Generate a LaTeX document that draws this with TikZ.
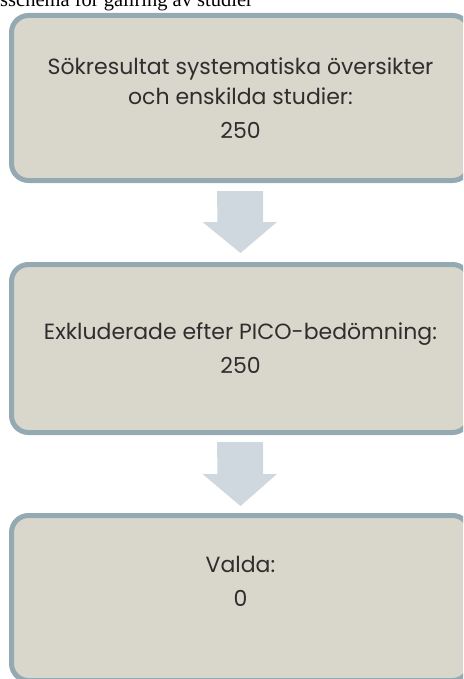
\documentclass[tikz,border=0pt]{standalone}
\usepackage{fontspec}
\setmainfont{Poppins}
\newfontfamily\titlefont{Liberation Serif}
\usetikzlibrary{calc}
\definecolor{boxborder}{HTML}{94A9B2}
\definecolor{boxfill}{HTML}{D9D7CB}
\definecolor{arrowfill}{HTML}{CFD8DE}
\definecolor{txt}{HTML}{2E2E2E}
\tikzset{
  stagebox/.style={draw=boxborder, fill=boxfill, line width=5pt, rounded corners=17pt,
    minimum width=458pt, align=center, text=txt,
    font=\fontsize{22}{30}\selectfont, inner sep=0pt},
  blockarrow/.style={fill=arrowfill, draw=none}
}
\begin{document}
\begin{tikzpicture}[x=1pt,y=-1pt]
\useasboundingbox (0,0) rectangle (463,679);
\begin{scope}
\clip (0,0) rectangle (463,679);
\node[anchor=base west, inner sep=0pt, font=\titlefont\fontsize{20.5}{24}\selectfont] (title) at (0,6.5) {sschema för gallring av studier};
\node[stagebox, minimum height=165pt] (b1) at (240.5,98) {Sökresultat systematiska översikter\\och enskilda studier:\\[4pt]250};
\node[stagebox, minimum height=168pt] (b2) at (240.5,348.5) {Exkluderade efter PICO-bedömning:\\[4pt]250};
\node[stagebox, minimum height=165pt] (b3) at (240.5,598) {Valda:\\[4pt]0\\[4pt]\mbox{}};
\fill[blockarrow] ($(b1.south)+(-23.5,8)$) -- ++(46,0) -- ++(0,31) -- ++(14,0)
  -- ($(b2.north)+(0,-9)$) -- ++(-38,-31) -- ++(15,0) -- cycle;
\fill[blockarrow] ($(b2.south)+(-23.5,7)$) -- ++(46,0) -- ++(0,32) -- ++(14,0)
  -- ($(b3.north)+(0,-7)$) -- ++(-38,-32) -- ++(15,0) -- cycle;
\end{scope}
\end{tikzpicture}
\end{document}
